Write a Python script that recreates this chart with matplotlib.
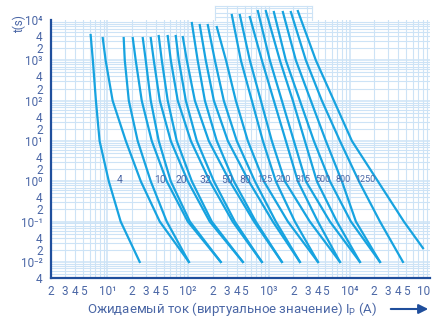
import matplotlib.pyplot as plt
import numpy as np

plt.rcParams['font.family'] = ['Roboto', 'DejaVu Sans']

# --- данные ---
# для каждого номинала (кроме 4 А) две кривые, сходящиеся внизу
curve_rating = [4, 10, 10, 20, 20, 32, 32, 50, 50, 80, 80, 125, 125,
                200, 200, 315, 315, 500, 500, 800, 800, 1250, 1250]
t_levels = [1000, 100, 10, 1, 0.1]
t_start = [4250, 3570, 3570, 3570, 3570, 3570, 4010, 4010, 4010, 3780, 8430, 7520,
           7520, 6700, 13300, 13300, 11860, 16700, 16700, 15800, 15800, 15800, 16700]
t_end = [0.01] * 22 + [0.022]
# ток (А): начало, 1000с, 100с, 10с, 1с, 0.1с, конец
currents = [
    [6.2, 6.6, 7.2, 8.0, 10.4, 14.6, 25.1],
    [8.75, 9.5, 11.6, 16.9, 25.9, 44.5, 102],
    [15.9, 16.4, 18.4, 23.7, 34.4, 54.3, 102],
    [20.6, 22.4, 26.6, 35.4, 54.3, 99, 253],
    [27.4, 29.8, 34.4, 43.2, 60.9, 105, 253],
    [34.4, 37.5, 44.5, 60.9, 99, 185, 475],
    [43.2, 47.1, 55.8, 72.2, 111, 196, 475],
    [55.8, 60.9, 74.3, 108, 185, 355, 817],
    [70.2, 76.5, 93.5, 128, 208, 378, 817],
    [85.8, 96.2, 121, 180, 328, 654, 1445],
    [111, 131, 161, 226, 368, 688, 1445],
    [139, 165, 208, 310, 564, 1117, 2415],
    [175, 214, 276, 400, 670, 1217, 2415],
    [226, 294, 389, 548, 865, 1716, 4040],
    [347, 449, 614, 841, 1217, 2094, 4040],
    [436, 580, 794, 1086, 1575, 3210, 7570],
    [580, 817, 1150, 1620, 2280, 4040, 7570],
    [729, 1026, 1445, 2035, 2866, 5690, 13380],
    [916, 1365, 1977, 2785, 3920, 6940, 13380],
    [1150, 1620, 2415, 3600, 5690, 10350, 23700],
    [1487, 2155, 3300, 5070, 8000, 11940, 23700],
    [1868, 2866, 4520, 7570, 13000, 23700, 45600],
    [2280, 3810, 6370, 10650, 22350, 46900, 80800],
]
label_text = ['4', '10', '20', '32', '50', '80', '125', '200', '315', '500', '800', '1250']
label_I = [14.2, 44.5, 83.3, 161, 301, 503, 889, 1487, 2630, 4655, 8240, 15420]
label_t = 1.1

xticks = [2, 3, 4, 5, 10, 20, 30, 40, 50, 100, 200, 300, 400, 500, 1e3,
          2e3, 3e3, 4e3, 5e3, 1e4, 2e4, 3e4, 4e4, 5e4, 1e5]
xticklabels = ['2', '3', '4', '5', '10¹', '2', '3', '4', '5', '10²', '2', '3', '4', '5', '10³',
               '2', '3', '4', '5', '10⁴', '2', '3', '4', '5', '10']
yticks = [4e-3, 1e-2, 2e-2, 4e-2, 1e-1, 2e-1, 4e-1, 1, 2, 4, 10, 20, 40,
          100, 200, 400, 1e3, 2e3, 4e3, 1e4]
yticklabels = ['4', '10⁻²', '2', '4', '10⁻¹', '2', '4', '10⁰', '2', '4', '10¹', '2', '4',
               '10²', '2', '4', '10³', '2', '4', '10⁴']

text_col = '#4b67a6'
axis_col = '#1f4e9c'
grid_col = '#cde3f6'
line_col = '#17a3e0'

fig = plt.figure(figsize=(4.32, 3.25), dpi=100)
ax = fig.add_axes([0.118, 0.1446, 0.8785, 0.7938])
ax.set_xscale('log')
ax.set_yscale('log')
ax.set_xlim(2, 1e5)
ax.set_ylim(4e-3, 1e4)

# сетка
for k in range(0, 5):
    for m in range(1, 10):
        v = m * 10 ** k
        if 2 <= v <= 1e5:
            ax.axvline(v, color=grid_col, lw=1.1 if m == 1 else 0.8, zorder=0)
for k in range(-3, 4):
    for m in range(1, 10):
        v = m * 10.0 ** k
        if 4e-3 <= v <= 1e4:
            ax.axhline(v, color=grid_col, lw=1.1 if m == 1 else 0.8, zorder=0)

# кусок сетки над графиком
box_x = [214, 3400]
box_t = [1e4, 2.2e4]
for v in [214, 300, 400, 500, 600, 700, 800, 900, 1000, 2000, 3000, 3400]:
    ax.plot([v, v], box_t, color=grid_col, lw=0.8, clip_on=False, zorder=0)
for v in [1.2e4, 1.5e4, 2e4, 2.2e4]:
    ax.plot(box_x, [v, v], color=grid_col, lw=0.8, clip_on=False, zorder=0)

# кривые
for i in range(len(curve_rating)):
    tt = [t_start[i]] + t_levels + [t_end[i]]
    ax.plot(currents[i], tt, color=line_col, lw=1.6, clip_on=False, zorder=3,
            solid_joinstyle='round')

for s, x in zip(label_text, label_I):
    if len(s) <= 2:
        ax.text(x, label_t, s, fontsize=7.5, color=text_col, ha='center', va='center', zorder=4)
    else:
        ax.text(x, label_t, s, fontsize=6.5, color=text_col, ha='center', va='center', zorder=4,
                family=['Liberation Sans Narrow', 'Roboto'])

ax.set_xticks(xticks)
ax.set_xticklabels(xticklabels)
ax.set_yticks(yticks)
ax.set_yticklabels(yticklabels)
ax.minorticks_off()
ax.tick_params(axis='both', length=0, colors=text_col, labelsize=8.5)
ax.tick_params(axis='x', pad=5)
ax.tick_params(axis='y', pad=6)
ax.get_xticklabels()[-1].set_ha('right')

for s in ['top', 'right']:
    ax.spines[s].set_visible(False)
for s in ['left', 'bottom']:
    ax.spines[s].set_color(axis_col)
    ax.spines[s].set_linewidth(1.6)
    ax.spines[s].set_zorder(5)

fig.text(0.044, 0.926, 't(s)', rotation=90, fontsize=8.5, color=text_col, ha='center', va='center')
fig.text(0.537, 0.049, 'Ожидаемый ток (виртуальное значение) I$_\\mathregular{P}$ (A)',
         fontsize=9.5, color=text_col, ha='center', va='center')
ax.annotate('', xy=(431, 16), xytext=(388, 16), xycoords='figure pixels',
            arrowprops=dict(arrowstyle='-|>', color=axis_col, lw=1.5, mutation_scale=14))

plt.savefig('out.png', dpi=100)
